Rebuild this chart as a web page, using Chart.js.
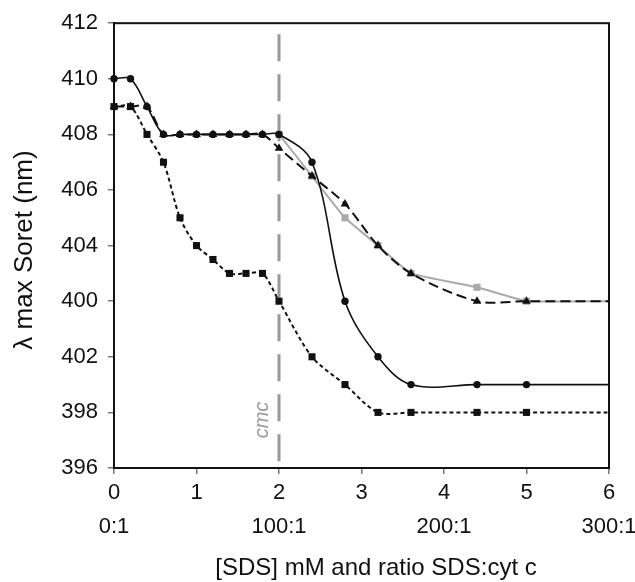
<!DOCTYPE html>
<html>
<head>
<meta charset="utf-8">
<script src="https://cdn.jsdelivr.net/npm/chart.js@4/dist/chart.umd.min.js"></script>
<style>
  html, body { margin: 0; padding: 0; background: #fff; }
  #wrap { width: 635px; height: 582px; position: relative; }
</style>
</head>
<body>
<div id="wrap"><canvas id="c" width="635" height="582"></canvas></div>
<script>
// ---- data ----
const xValues = [0, 0.2, 0.4, 0.6, 0.8, 1.0, 1.2, 1.4, 1.6, 1.8, 2.0, 2.4, 2.8, 3.2, 3.6, 4.4, 5.0, 6.0];
const circleSeries   = [410, 410, 409, 408, 408, 408, 408, 408, 408, 408, 408, 407, 402, 400, 399, 399, 399, 399];
const squareSeries   = [409, 409, 408, 407, 405, 404, 403.5, 403, 403, 403, 402, 400, 399, 398, 398, 398, 398, 398];
const triangleSeries = [409, 409, 409, 408, 408, 408, 408, 408, 408, 408, 407.5, 406.5, 405.5, 404, 403, 402, 402, 402];
const graySeries     = [null, null, null, null, null, null, null, null, null, null, 408, 406.5, 405, 404, 403, 402.5, 402, 402];
const yTickValues = [396, 398, 400, 402, 404, 406, 408, 410, 412];
const yTickLabels = ['396', '398', '402', '400', '404', '406', '408', '410', '412'];
const xTickValues = [0, 1, 2, 3, 4, 5, 6];
const ratioTickValues = [0, 2, 4, 6];
const ratioTickLabels = ['0:1', '100:1', '200:1', '300:1'];
const cmcValue = 2;
const cmcLabel = 'cmc';
const xTitle = '[SDS] mM and ratio SDS:cyt c';
const yTitle = 'λ max Soret (nm)';

const FONT = '"Liberation Sans", Arial, Helvetica, sans-serif';
const TEXT = '#111';

function pts(ys) { return xValues.map((x, i) => ({ x: x, y: ys[i] })); }
function radii(ys, r) { return xValues.map((x) => (x >= 6 ? 0 : r)); }

const extras = {
  id: 'extras',
  beforeDatasetsDraw(chart) {
    const { ctx, chartArea, scales } = chart;
    const x = scales.x.getPixelForValue(cmcValue);
    ctx.save();
    ctx.strokeStyle = '#9a9a9a';
    ctx.lineWidth = 3;
    ctx.setLineDash([27, 13]);
    ctx.beginPath();
    ctx.moveTo(x, chartArea.top + 11);
    ctx.lineTo(x, chartArea.bottom);
    ctx.stroke();
    ctx.setLineDash([]);
    ctx.translate(x - 17, 420);
    ctx.rotate(-Math.PI / 2);
    ctx.font = 'italic 20px ' + FONT;
    ctx.fillStyle = '#9a9a9a';
    ctx.textAlign = 'center';
    ctx.textBaseline = 'middle';
    ctx.fillText(cmcLabel, 0, 0);
    ctx.restore();
  },
  afterDraw(chart) {
    const { ctx, chartArea, scales } = chart;
    ctx.save();
    // plot frame
    ctx.strokeStyle = '#111';
    ctx.lineWidth = 2;
    ctx.strokeRect(chartArea.left, chartArea.top, chartArea.right - chartArea.left, chartArea.bottom - chartArea.top);
    // ratio row
    ctx.font = '22px ' + FONT;
    ctx.fillStyle = TEXT;
    ctx.textAlign = 'center';
    ctx.textBaseline = 'middle';
    ratioTickValues.forEach((v, i) => {
      ctx.fillText(ratioTickLabels[i], scales.x.getPixelForValue(v), 527);
    });
    // x title
    ctx.font = '24px ' + FONT;
    ctx.fillText(xTitle, 376, 568);
    // y title
    ctx.translate(25, 250);
    ctx.rotate(-Math.PI / 2);
    ctx.font = '26px ' + FONT;
    ctx.fillText(yTitle, 0, 0);
    ctx.restore();
  }
};

new Chart(document.getElementById('c'), {
  type: 'line',
  data: {
    datasets: [
      {
        label: 'circles',
        data: pts(circleSeries),
        borderColor: '#111', backgroundColor: '#111',
        borderWidth: 1.6, tension: 0.35,
        pointStyle: 'circle', pointRadius: radii(circleSeries, 3.7),
        pointBorderWidth: 0, clip: false
      },
      {
        label: 'squares',
        data: pts(squareSeries),
        borderColor: '#111', backgroundColor: '#111',
        borderWidth: 2, borderDash: [4, 3], tension: 0.3,
        pointStyle: 'rect', pointRadius: radii(squareSeries, 5),
        pointBorderWidth: 0, clip: false
      },
      {
        label: 'triangles',
        data: pts(triangleSeries),
        borderColor: '#111', backgroundColor: '#111',
        borderWidth: 2, borderDash: [10, 5], tension: 0.3,
        pointStyle: 'triangle', pointRadius: radii(triangleSeries, 5),
        pointBorderWidth: 0, clip: false
      },
      {
        label: 'gray',
        data: pts(graySeries),
        borderColor: '#aaaaaa', backgroundColor: '#aaaaaa',
        borderWidth: 2, tension: 0.1, spanGaps: false,
        pointStyle: 'rect', pointRadius: radii(graySeries, 5),
        pointBorderWidth: 0, clip: false
      }
    ]
  },
  options: {
    responsive: false,
    animation: false,
    devicePixelRatio: 1,
    layout: { padding: { top: 22, right: 26, left: 0, bottom: 0 } },
    plugins: { legend: { display: false }, tooltip: { enabled: false }, title: { display: false } },
    scales: {
      x: {
        type: 'linear', min: 0, max: 6,
        afterFit(s) { s.height = 114; },
        afterBuildTicks(s) { s.ticks = xTickValues.map(v => ({ value: v })); },
        ticks: { font: { family: FONT, size: 22 }, color: TEXT, padding: 6, maxRotation: 0, autoSkip: false,
                 callback: v => String(v) },
        grid: { display: true, drawOnChartArea: false, drawTicks: true, tickLength: 6, color: '#777', lineWidth: 1.5 },
        border: { display: true, color: '#111', width: 2 },
        title: { display: false }
      },
      y: {
        type: 'linear', min: 396, max: 412,
        afterFit(s) { s.width = 114; },
        afterBuildTicks(s) { s.ticks = yTickValues.map(v => ({ value: v })); },
        ticks: { font: { family: FONT, size: 22 }, color: TEXT, padding: 10, autoSkip: false,
                 callback: v => yTickLabels[yTickValues.indexOf(v)] },
        grid: { display: true, drawOnChartArea: false, drawTicks: true, tickLength: 6, color: '#777', lineWidth: 1.5 },
        border: { display: true, color: '#111', width: 2 },
        title: { display: false }
      }
    }
  },
  plugins: [extras]
});
</script>
</body>
</html>
